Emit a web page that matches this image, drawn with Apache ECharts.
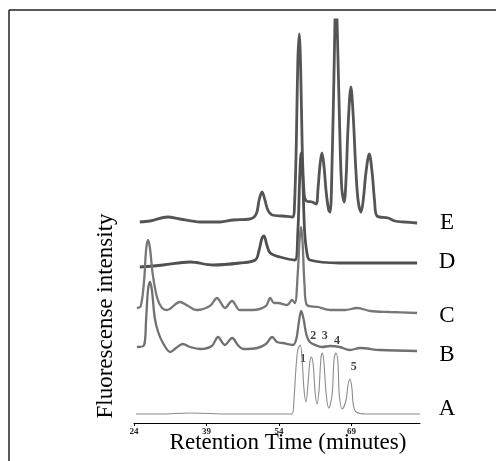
<!DOCTYPE html>
<html>
<head>
<meta charset="utf-8">
<script src="https://cdn.jsdelivr.net/npm/echarts@6/dist/echarts.min.js"></script>
<style>
  html, body { margin: 0; padding: 0; background: #fff; }
  #chart { width: 496px; height: 461px; }
</style>
</head>
<body>
<div id="chart"></div>
<script>
// retention time (min) vs fluorescence (arbitrary units, traces stacked with offsets)
const xTicks = [24, 39, 54, 69];

const traceA = [
  [24.4, 9], [29.4, 9], [35.6, 10], [43.9, 9], [52.2, 9], [56.7, 9],
  [57.1, 23], [57.5, 53], [57.9, 73], [58.4, 78], [58.8, 63], [59.2, 33], [59.6, 21],
  [60.0, 38], [60.4, 61], [60.7, 66], [61.1, 58], [61.5, 30], [61.9, 19],
  [62.3, 33], [62.7, 65], [63.0, 70], [63.3, 61], [63.8, 28], [64.3, 15],
  [65.0, 28], [65.4, 63], [65.8, 70], [66.2, 61], [66.5, 28], [67.1, 14],
  [67.9, 23], [68.3, 38], [68.7, 44], [69.1, 35], [69.4, 18], [70.0, 11],
  [72.1, 9], [77.0, 9], [83.2, 9]
];

const traceB = [
  [24.6, 76], [26.1, 78], [26.5, 103], [26.9, 133], [27.3, 141], [27.7, 133],
  [28.3, 105], [29.0, 91], [30.0, 80], [31.5, 71], [32.7, 75], [34.1, 79],
  [35.6, 76], [37.7, 74], [40.1, 77], [41.4, 86], [42.2, 81], [42.8, 78],
  [44.3, 85], [45.5, 78], [46.6, 74], [49.5, 75], [51.3, 79], [52.6, 86],
  [53.6, 81], [54.8, 80], [56.9, 78], [57.6, 84], [58.1, 100], [58.6, 112],
  [59.1, 104], [59.7, 88], [60.4, 81], [61.5, 78], [62.9, 76], [64.6, 77],
  [66.6, 76], [68.7, 73], [70.8, 75], [74.9, 73], [82.6, 72]
];

const traceC = [
  [24.6, 115], [25.4, 117], [26.1, 143], [26.5, 173], [26.9, 183], [27.3, 175],
  [27.9, 148], [28.8, 125], [29.8, 115], [30.8, 113], [33.5, 121], [35.2, 117],
  [37.0, 113], [39.7, 117], [41.2, 125], [42.0, 120], [42.8, 115], [44.3, 122],
  [45.9, 113], [48.6, 113], [51.3, 117], [52.2, 125], [53.0, 120], [53.8, 120],
  [55.7, 118], [56.7, 123], [57.3, 120], [57.9, 150], [58.3, 185], [58.6, 196],
  [58.9, 180], [59.3, 138], [59.8, 118], [62.1, 116], [64.6, 113], [67.7, 113],
  [70.2, 115], [72.9, 112], [77.0, 111], [82.6, 110]
];

const traceD = [
  [25.2, 156], [30.0, 158], [35.6, 161], [40.4, 158], [45.9, 160], [49.1, 163],
  [49.9, 173], [50.5, 185], [50.9, 187], [51.5, 178], [52.2, 170], [54.2, 166],
  [57.3, 163], [57.9, 190], [58.3, 245], [58.6, 270], [58.9, 250], [59.3, 193],
  [59.8, 170], [60.4, 163], [66.6, 160], [74.9, 160], [82.6, 160]
];

const traceE = [
  [25.2, 201], [27.3, 202], [31.0, 206], [33.5, 204], [37.7, 201], [41.8, 201],
  [44.5, 203], [48.0, 204], [49.3, 209], [49.9, 223], [50.5, 231], [51.1, 223],
  [51.7, 213], [52.6, 208], [54.8, 207], [56.9, 206],
  [57.2, 215], [57.6, 280], [57.9, 360], [58.2, 389], [58.5, 355], [58.8, 280], [59.2, 230], [59.7, 222],
  [60.9, 221], [61.7, 219],
  [62.1, 235], [62.5, 258], [62.9, 270], [63.3, 258], [63.8, 230], [64.3, 213],
  [64.6, 211], [65.0, 260], [65.4, 350], [65.8, 430], [66.2, 370], [66.6, 290], [67.0, 235], [67.5, 221],
  [67.9, 245], [68.3, 295], [68.9, 336], [69.4, 305], [69.9, 255], [70.4, 222], [71.0, 211],
  [71.5, 225], [72.0, 250], [72.7, 269], [73.3, 250], [73.8, 222], [74.3, 207],
  [76.6, 205], [78.0, 202], [80.1, 201], [82.6, 200]
];

const peakNames = ['1', '2', '3', '4', '5'];
const peakSpots = [[59.0, 64], [61.1, 87], [63.5, 87], [66.0, 82], [69.5, 56]];

const traceNames = ['A', 'B', 'C', 'D', 'E'];

const chart = echarts.init(document.getElementById('chart'));
const serif = 'Liberation Serif, Times New Roman, serif';

const line = (name, data, color, width) => ({
  name: name,
  type: 'line',
  data: data,
  smooth: 0.35,
  showSymbol: false,
  clip: true,
  lineStyle: { color: color, width: width },
  emphasis: { disabled: true }
});

// label rows of A..E at the right side
const labelRows = [409, 355, 316, 262, 223];

chart.setOption({
  animation: false,
  backgroundColor: '#fff',
  grid: { left: 134, right: 76, top: 20, bottom: 38 },
  xAxis: {
    type: 'value',
    min: 24,
    max: 83.2,
    axisLine: { show: true, lineStyle: { color: '#000', width: 1 } },
    axisTick: { show: true, length: 3, customValues: xTicks, lineStyle: { color: '#000' } },
    axisLabel: {
      customValues: xTicks,
      fontSize: 9, fontWeight: 'bold', fontFamily: serif, color: '#222', margin: 4
    },
    splitLine: { show: false }
  },
  yAxis: {
    type: 'value',
    min: 0,
    max: 403,
    show: false
  },
  series: [
    line('E', traceE, '#555', 2.8),
    line('D', traceD, '#505050', 2.8),
    line('C', traceC, '#777', 2.3),
    line('B', traceB, '#707070', 2.3),
    line('A', traceA, '#8c8c8c', 1.1),
    {
      type: 'scatter',
      symbolSize: 0,
      data: peakSpots.map((p, i) => ({ value: p, name: peakNames[i] })),
      label: {
        show: true, position: 'inside', formatter: '{b}',
        fontSize: 12, fontWeight: 'bold', fontFamily: serif, color: '#111'
      },
      emphasis: { disabled: true }
    }
  ],
  graphic: [
    { type: 'line', shape: { x1: 9, y1: 10, x2: 496, y2: 10 }, style: { stroke: '#222', lineWidth: 1.5 } },
    { type: 'line', shape: { x1: 9, y1: 10, x2: 9, y2: 461 }, style: { stroke: '#222', lineWidth: 1.5 } },
    {
      type: 'text', x: 288, y: 443,
      style: { text: 'Retention Time (minutes)', font: '23px ' + serif, fill: '#000', align: 'center', verticalAlign: 'middle' }
    },
    {
      type: 'text', x: 106, y: 316, rotation: Math.PI / 2,
      style: { text: 'Fluorescense intensity', font: '23px ' + serif, fill: '#000', align: 'center', verticalAlign: 'middle' }
    }
  ].concat(traceNames.map((t, i) => ({
    type: 'text', x: 447, y: labelRows[i],
    style: { text: t, font: '23px ' + serif, fill: '#000', align: 'center', verticalAlign: 'middle' }
  })))
});
</script>
</body>
</html>
